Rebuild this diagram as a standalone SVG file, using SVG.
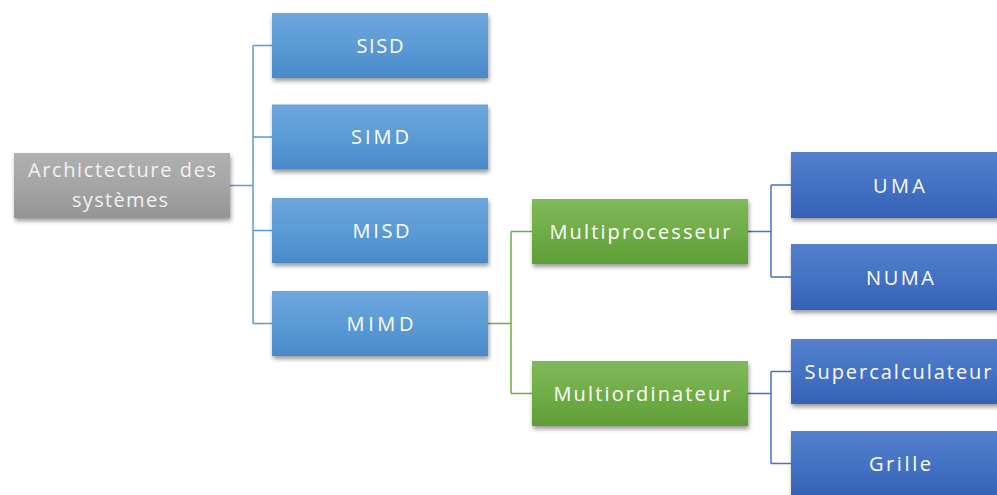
<svg xmlns="http://www.w3.org/2000/svg" width="997" height="495" viewBox="0 0 997 495">
<defs>
<linearGradient id="gGray" x1="0" y1="0" x2="0" y2="1"><stop offset="0" stop-color="#b0b0b0"/><stop offset="0.5" stop-color="#a5a5a5"/><stop offset="1" stop-color="#949494"/></linearGradient>
<linearGradient id="gBlue" x1="0" y1="0" x2="0" y2="1"><stop offset="0" stop-color="#6ea6dd"/><stop offset="0.5" stop-color="#5b9bd5"/><stop offset="1" stop-color="#4a89c9"/></linearGradient>
<linearGradient id="gGreen" x1="0" y1="0" x2="0" y2="1"><stop offset="0" stop-color="#80b95c"/><stop offset="0.5" stop-color="#70ad47"/><stop offset="1" stop-color="#5f9d37"/></linearGradient>
<linearGradient id="gDark" x1="0" y1="0" x2="0" y2="1"><stop offset="0" stop-color="#5480cc"/><stop offset="0.5" stop-color="#4472c4"/><stop offset="1" stop-color="#3562b6"/></linearGradient>
<filter id="sh" x="-10%" y="-10%" width="125%" height="140%"><feDropShadow dx="1" dy="3" stdDeviation="2" flood-color="#000" flood-opacity="0.4"/></filter>
</defs>
<style>
.box{filter:url(#sh);}
.t{font-family:"Open Sans","Liberation Sans",sans-serif;font-size:20px;fill:#ffffff;text-anchor:middle;}
.tr{fill:#f2f2f2;}
.c1{fill:none;stroke:#5b9bd5;stroke-width:1.5;}
.c2{fill:none;stroke:#70ad47;stroke-width:1.5;}
.c3{fill:none;stroke:#4472c4;stroke-width:1.5;}
</style>
<g id="connectors">
<path class="c1" d="M230,185.5 H253 M253,45.5 V323.5 M253,45.5 H272 M253,137 H272 M253,230.5 H272 M253,323.5 H272"/>
<path class="c2" d="M488,323.5 H511 M511,231.5 V393.5 M511,231.5 H532 M511,393.5 H532"/>
<path class="c3" d="M748,231.5 H771 M771,185 V277 M771,185 H791 M771,277 H791 M748,393.5 H771 M771,371.5 V463.5 M771,371.5 H791 M771,463.5 H791"/>
</g>
<g id="root"><rect class="box" x="14" y="153" width="216" height="65" fill="url(#gGray)"/>
<text class="t tr" x="122" y="177" textLength="188" lengthAdjust="spacing">Archictecture des</text>
<text class="t tr" x="120" y="207" textLength="96" lengthAdjust="spacing">systèmes</text></g>
<g id="sisd"><rect class="box" x="272" y="13" width="216" height="65" fill="url(#gBlue)"/><text class="t" x="380" y="52.5" textLength="47" lengthAdjust="spacing">SISD</text></g>
<g id="simd"><rect class="box" x="272" y="104.5" width="216" height="65" fill="url(#gBlue)"/><text class="t" x="380" y="144" textLength="58" lengthAdjust="spacing">SIMD</text></g>
<g id="misd"><rect class="box" x="272" y="198" width="216" height="65" fill="url(#gBlue)"/><text class="t" x="381" y="237.5" textLength="57" lengthAdjust="spacing">MISD</text></g>
<g id="mimd"><rect class="box" x="272" y="291" width="216" height="65" fill="url(#gBlue)"/><text class="t" x="380" y="330.5" textLength="67" lengthAdjust="spacing">MIMD</text></g>
<g id="multiprocesseur"><rect class="box" x="532" y="199" width="216" height="65" fill="url(#gGreen)"/><text class="t" x="640" y="239" textLength="181" lengthAdjust="spacing">Multiprocesseur</text></g>
<g id="multiordinateur"><rect class="box" x="532" y="361" width="216" height="65" fill="url(#gGreen)"/><text class="t" x="642" y="401" textLength="177" lengthAdjust="spacing">Multiordinateur</text></g>
<g id="uma"><rect class="box" x="791" y="152" width="216" height="66" fill="url(#gDark)"/><text class="t" x="899" y="192.5" textLength="52" lengthAdjust="spacing">UMA</text></g>
<g id="numa"><rect class="box" x="791" y="244" width="216" height="66" fill="url(#gDark)"/><text class="t" x="900" y="284.5" textLength="68" lengthAdjust="spacing">NUMA</text></g>
<g id="supercalculateur"><rect class="box" x="791" y="339" width="216" height="65" fill="url(#gDark)"/><text class="t" x="898" y="379" textLength="187" lengthAdjust="spacing">Supercalculateur</text></g>
<g id="grille"><rect class="box" x="791" y="431" width="216" height="66" fill="url(#gDark)"/><text class="t" x="900" y="471" textLength="62" lengthAdjust="spacing">Grille</text></g>
</svg>
